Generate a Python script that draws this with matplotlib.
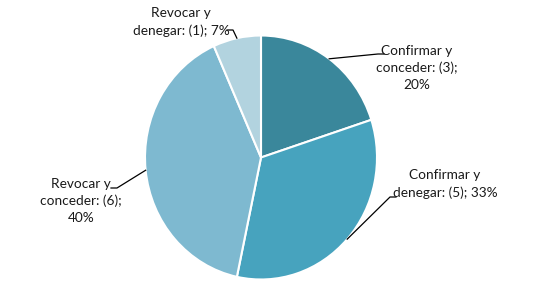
import numpy as np
import matplotlib.pyplot as plt

# slice data, clockwise from the top
labels = ['Confirmar y\nconceder: (3);\n20%',
          'Confirmar y\ndenegar: (5); 33%',
          'Revocar y\nconceder: (6);\n40%',
          'Revocar y\ndenegar: (1); 7%']
counts = [3, 5, 6, 1]
colors = ['#3a879b', '#47a3be', '#7eb9d0', '#b2d3df']

# label text centres and leader elbows, in image pixels
text_pos = [(417, 68), (445, 184), (81, 201), (181, 22)]
elbows = [[(378, 54), (384, 54)],
          [(390, 197), (396, 197)],
          [(117, 188), (111, 188)],
          [(233, 30), (227, 30)]]

W, H = 556, 302
cx, cy, rx, ry = 261, 157.5, 116, 122

def px(x, y):
    # image pixel -> data coords
    return (x - cx) / rx, (cy - y) / ry

fig = plt.figure(figsize=(W / 100, H / 100), dpi=100)
ax = fig.add_axes([0, 0, 1, 1])
wedges, _ = ax.pie(counts, colors=colors, startangle=90, counterclock=False,
                   radius=1, wedgeprops=dict(edgecolor='white', linewidth=1.5))
ax.set_aspect('auto')
ax.set_xlim(-cx / rx, (W - cx) / rx)
ax.set_ylim(-(H - cy) / ry, cy / ry)
ax.axis('off')

for w, lab, tp, el in zip(wedges, labels, text_pos, elbows):
    mid = np.deg2rad((w.theta1 + w.theta2) / 2)
    pts = [(np.cos(mid), np.sin(mid))] + [px(*p) for p in el]
    xs, ys = zip(*pts)
    ax.plot(xs, ys, color='black', lw=0.9)
    tx, ty = px(*tp)
    ax.text(tx, ty, lab, ha='center', va='center', fontsize=9.8,
            family='Lato', color='#1a1a1a', linespacing=1.45)

fig.savefig('out.png', dpi=100)
